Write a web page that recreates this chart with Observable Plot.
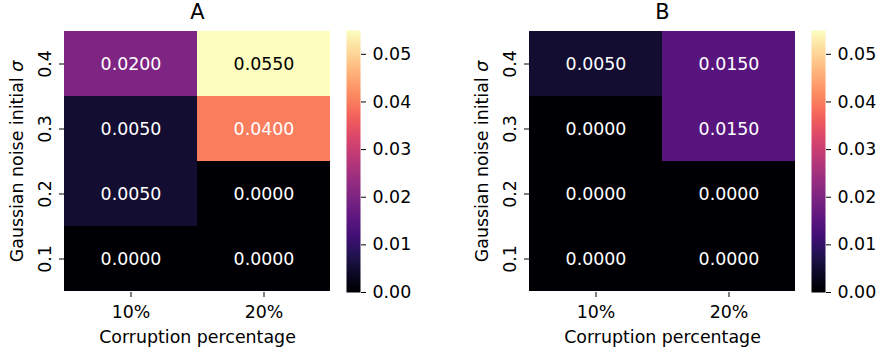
<!DOCTYPE html>
<html><head><meta charset="utf-8">
<script src="https://cdn.jsdelivr.net/npm/d3@7"></script>
<script src="https://cdn.jsdelivr.net/npm/@observablehq/plot@0.6"></script>
<style>
body{margin:0;background:#fff;}
#chart{position:relative;width:878px;height:351px;font-family:"DejaVu Sans",sans-serif;}
#chart svg{position:absolute;top:0;overflow:visible;}
</style></head><body><div id="chart"></div>
<script>
const corruption = ["10%", "20%"];
const sigmas = ["0.4", "0.3", "0.2", "0.1"];
const panelTitles = ["A", "B"];
// rows follow sigmas (top to bottom), columns follow corruption
const valuesA = [[0.0200, 0.0550], [0.0050, 0.0400], [0.0050, 0.0000], [0.0000, 0.0000]];
const valuesB = [[0.0050, 0.0150], [0.0000, 0.0150], [0.0000, 0.0000], [0.0000, 0.0000]];
const colorTicks = [0, 0.01, 0.02, 0.03, 0.04, 0.05];
const colorMax = 0.055;
const xLabel = "Corruption percentage";
const yLabel = "Gaussian noise initial σ";

const FONT = "DejaVu Sans";
const FS = 17.4;
const chart = document.getElementById("chart");

function luminance(c) {
  const rgb = d3.rgb(c);
  const f = v => { v /= 255; return v <= 0.03928 ? v / 12.92 : Math.pow((v + 0.055) / 1.055, 2.4); };
  return 0.2126 * f(rgb.r) + 0.7152 * f(rgb.g) + 0.0722 * f(rgb.b);
}

function panel(values, title, ox) {
  const data = [];
  sigmas.forEach((s, i) => corruption.forEach((c, j) => data.push({s, c, v: values[i][j]})));
  const isLight = d => luminance(d3.interpolateMagma(d.v / colorMax)) > 0.408;
  const style = {fontFamily: FONT, fontSize: FS + "px", color: "#000", background: "transparent", overflow: "visible"};
  const heat = Plot.plot({
    width: 345, height: 351,
    marginLeft: 64, marginRight: 15, marginTop: 30, marginBottom: 59,
    style,
    x: {domain: corruption, padding: 0, label: null},
    y: {domain: sigmas, padding: 0, label: null},
    color: {type: "linear", scheme: "magma", domain: [0, colorMax]},
    marks: [
      Plot.cell(data, {x: "c", y: "s", fill: "v", inset: 0}),
      Plot.text(data.filter(d => !isLight(d)), {x: "c", y: "s", text: d => d.v.toFixed(4), fill: "#fff", fontSize: FS}),
      Plot.text(data.filter(d => isLight(d)), {x: "c", y: "s", text: d => d.v.toFixed(4), fill: "#000", fontSize: FS}),
      Plot.axisX({tickSize: 5, tickPadding: 8, label: null, stroke: "#000", fill: "#000"}),
      Plot.axisY({tickSize: 5, tickPadding: 9, tickRotate: -90, label: null, stroke: "#000", fill: "#000"}),
      Plot.text([xLabel], {frameAnchor: "bottom", dy: 45, lineAnchor: "middle", fontSize: FS, fill: "#000"}),
      Plot.text([yLabel], {frameAnchor: "left", dx: -47, rotate: -90, textAnchor: "middle", lineAnchor: "middle", fontSize: FS, fill: "#000"}),
      Plot.text([title], {frameAnchor: "top", dy: -18, lineAnchor: "middle", fontSize: 20.9, fill: "#000"})
    ]
  });
  heat.style.left = ox + "px";
  d3.select(heat).selectAll("text").filter(function () { return this.textContent === yLabel; })
    .each(function () {
      this.textContent = yLabel.slice(0, -1);
      const t = document.createElementNS("http://www.w3.org/2000/svg", "tspan");
      t.setAttribute("font-style", "italic");
      t.textContent = "σ";
      this.appendChild(t);
    });
  chart.appendChild(heat);

  const bar = Plot.plot({
    width: 100, height: 351,
    marginLeft: 0, marginRight: 86, marginTop: 30, marginBottom: 59,
    style,
    x: {domain: [0, 1], axis: null},
    y: {domain: [0, colorMax], label: null},
    color: {type: "linear", scheme: "magma", domain: [0, colorMax]},
    marks: [
      Plot.raster({x1: 0, x2: 1, y1: 0, y2: colorMax, width: 1, height: 256, fill: (x, y) => y, imageRendering: "auto"}),
      Plot.axisY({anchor: "right", ticks: colorTicks, tickFormat: d3.format(".2f"), tickSize: 5, tickPadding: 7, label: null, stroke: "#000", fill: "#000"})
    ]
  });
  bar.style.left = (ox + 346) + "px";
  chart.appendChild(bar);
}

panel(valuesA, panelTitles[0], 0);
panel(valuesB, panelTitles[1], 465);
</script></body></html>
